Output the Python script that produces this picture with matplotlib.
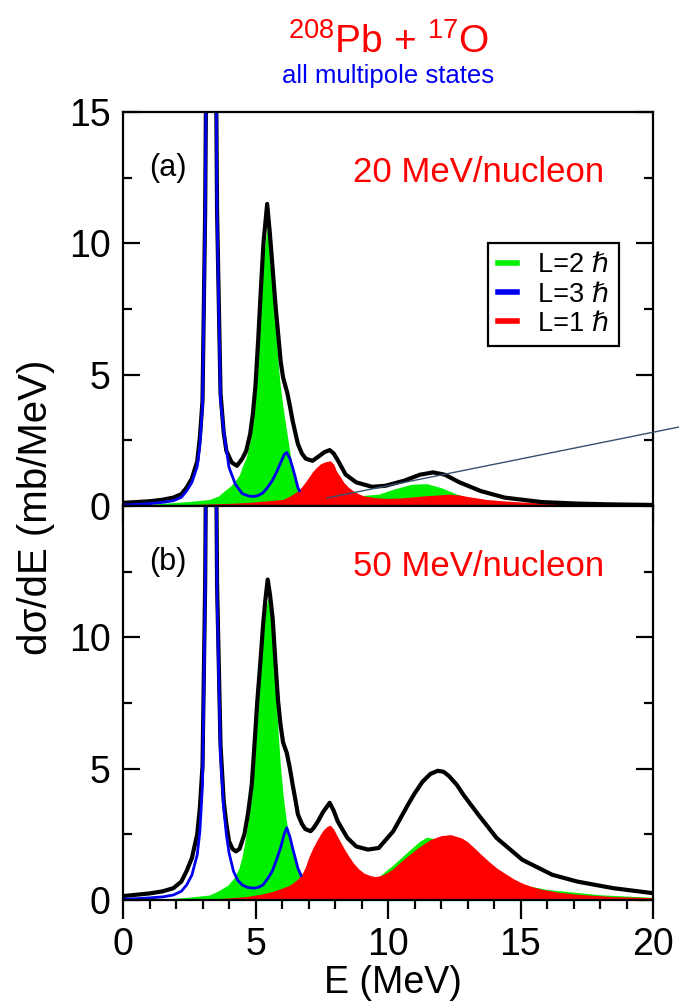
import matplotlib
matplotlib.use("Agg")
import matplotlib.pyplot as plt
from matplotlib.lines import Line2D
from matplotlib.ticker import MultipleLocator

plt.rcParams['font.family'] = ['Liberation Sans', 'DejaVu Sans']
plt.rcParams['mathtext.fontset'] = 'custom'
plt.rcParams['mathtext.rm'] = 'Liberation Sans'

# ---------------- data: panel (a) 20 MeV/nucleon ----------------
E_a_tot = [0, 0.5, 1.0, 1.5, 1.9, 2.2, 2.4, 2.6, 2.8, 2.9, 3.0, 3.1, 3.2, 3.32, 3.45,
           3.55, 3.68, 3.8, 3.9, 4.1, 4.3, 4.5, 4.65, 4.8, 4.9, 5.0, 5.1, 5.2, 5.3, 5.44,
           5.54, 5.65, 5.75, 5.85, 5.95, 6.04, 6.2, 6.3, 6.4, 6.5, 6.6, 6.75, 6.9, 7.15, 7.4,
           7.6, 7.8, 7.95, 8.1, 8.4, 8.8, 9.4, 9.9, 10.6, 11.2, 11.7, 12.15, 12.7, 13.5, 14.4,
           15.8, 17.2, 18.5, 20]
a_tot = [0.12, 0.15, 0.18, 0.24, 0.32, 0.45, 0.7, 1.05, 1.7, 2.6, 4.0, 11.2, 25, 40, 25,
         11.2, 4.3, 2.8, 2.1, 1.66, 1.53, 1.8, 2.1, 2.75, 3.5, 4.6, 6.3, 8.2, 10.0, 11.5,
         10.4, 9.0, 7.7, 6.6, 5.5, 4.9, 4.3, 3.8, 3.25, 2.8, 2.36, 2.0, 1.8, 1.72, 1.9,
         2.05, 2.13, 2.0, 1.75, 1.2, 0.9, 0.73, 0.77, 0.96, 1.19, 1.28, 1.19, 0.9, 0.57, 0.32,
         0.15, 0.09, 0.06, 0.04]

E_a_L3 = [0, 0.5, 1.0, 1.5, 1.9, 2.2, 2.4, 2.6, 2.8, 2.9, 3.0, 3.1, 3.2, 3.32, 3.45,
          3.55, 3.68, 3.82, 4.0, 4.24, 4.5, 4.75, 4.93, 5.1, 5.28, 5.45, 5.63, 5.8, 5.95, 6.08,
          6.18, 6.3, 6.4, 6.5, 6.6, 6.66]
a_L3 = [0.04, 0.06, 0.09, 0.14, 0.2, 0.33, 0.57, 0.9, 1.5, 2.3, 3.8, 11, 25, 40, 25,
        11, 4.0, 2.7, 1.47, 0.83, 0.47, 0.38, 0.36, 0.4, 0.5, 0.7, 0.96, 1.3, 1.65, 1.95,
        2.04, 1.8, 1.47, 1.1, 0.7, 0.58]

E_a_L2 = [0, 1.0, 1.9, 2.6, 3.26, 3.6, 3.82, 4.05, 4.24, 4.4, 4.5, 4.65, 4.8, 4.9, 5.0,
          5.1, 5.2, 5.3, 5.46, 5.55, 5.65, 5.75, 5.85, 5.93, 6.04, 6.15, 6.25, 6.35, 6.46, 6.57,
          6.67, 6.8, 7.0, 7.5, 8.0, 8.5, 9.0, 9.65, 10.2, 10.9, 11.46, 12.0, 12.6, 13.0, 13.5,
          14.0, 15, 16, 17, 18, 20]
a_L2 = [0.02, 0.07, 0.13, 0.18, 0.25, 0.38, 0.57, 0.75, 0.96, 1.2, 1.5, 1.85, 2.5, 3.2, 4.2,
        5.8, 7.8, 9.4, 10.8, 9.8, 8.35, 6.9, 5.5, 4.6, 3.76, 3.0, 2.36, 1.7, 1.2, 0.85,
        0.57, 0.45, 0.38, 0.33, 0.32, 0.35, 0.4, 0.45, 0.64, 0.83, 0.85, 0.7, 0.45, 0.32, 0.22,
        0.15, 0.09, 0.06, 0.04, 0.03, 0.02]

E_a_L1 = [0, 2, 4, 4.65, 5.5, 6.04, 6.3, 6.6, 6.8, 7.0, 7.15, 7.3, 7.45, 7.57, 7.7,
          7.82, 7.95, 8.05, 8.2, 8.33, 8.5, 8.7, 8.9, 9.1, 9.5, 9.93, 10.4, 10.9, 11.4, 11.9,
          12.3, 12.7, 13.0, 13.4, 13.7, 14.3, 15.07, 16, 17.2, 18.5, 20]
a_L1 = [0.01, 0.04, 0.1, 0.13, 0.2, 0.25, 0.38, 0.57, 0.8, 1.08, 1.3, 1.47, 1.6, 1.66, 1.7,
        1.72, 1.6, 1.34, 1.12, 0.9, 0.72, 0.57, 0.46, 0.38, 0.32, 0.29, 0.3, 0.34, 0.39, 0.42,
        0.45, 0.42, 0.36, 0.3, 0.25, 0.2, 0.15, 0.12, 0.09, 0.07, 0.06]

# ---------------- data: panel (b) 50 MeV/nucleon ----------------
E_b_tot = [0, 0.5, 1.0, 1.5, 1.9, 2.2, 2.4, 2.6, 2.8, 2.9, 3.0, 3.1, 3.2, 3.32, 3.45,
           3.55, 3.68, 3.8, 3.9, 4.0, 4.13, 4.26, 4.4, 4.58, 4.72, 4.86, 4.96, 5.07, 5.18, 5.28,
           5.37, 5.46, 5.55, 5.65, 5.75, 5.85, 5.94, 6.04, 6.18, 6.3, 6.4, 6.5, 6.6, 6.75, 6.88,
           7.08, 7.2, 7.36, 7.55, 7.8, 7.95, 8.1, 8.3, 8.47, 8.8, 9.24, 9.65, 10.2, 10.76, 11.0,
           11.3, 11.6, 11.88, 12.1, 12.3, 12.6, 12.85, 13.4, 14.1, 15.07, 16.2, 17.15, 18.5, 20]
b_tot = [0.15, 0.2, 0.25, 0.33, 0.45, 0.7, 1.1, 1.6, 2.5, 3.5, 5.1, 12, 26, 42, 26,
         12, 5.9, 3.77, 2.9, 2.24, 1.95, 1.85, 1.95, 2.5, 3.3, 4.4, 5.9, 7.6, 9.0, 10.4,
         11.4, 12.2, 11.6, 10.7, 9.1, 7.6, 6.7, 6.0, 5.6, 5.0, 4.4, 3.85, 3.26, 2.9, 2.7,
         2.62, 2.75, 3.0, 3.35, 3.7, 3.4, 3.0, 2.65, 2.36, 2.04, 1.92, 1.98, 2.62, 3.64, 4.05,
         4.5, 4.8, 4.92, 4.88, 4.72, 4.38, 4.0, 3.26, 2.36, 1.53, 0.96, 0.7, 0.45, 0.26]

E_b_L3 = [0, 0.5, 1.0, 1.5, 1.9, 2.2, 2.4, 2.6, 2.8, 2.9, 3.0, 3.1, 3.2, 3.32, 3.45,
          3.55, 3.68, 3.8, 3.9, 4.0, 4.17, 4.33, 4.5, 4.7, 4.93, 5.1, 5.28, 5.45, 5.63, 5.8,
          5.95, 6.08, 6.18, 6.3, 6.4, 6.5, 6.6, 6.72]
b_L3 = [0.03, 0.05, 0.08, 0.12, 0.19, 0.33, 0.57, 0.95, 1.72, 2.6, 4.4, 11.5, 26, 42, 26,
        11.5, 5.5, 3.5, 2.5, 1.8, 1.09, 0.75, 0.57, 0.48, 0.45, 0.48, 0.57, 0.8, 1.09, 1.55,
        2.0, 2.5, 2.75, 2.4, 1.98, 1.6, 1.21, 0.93]

E_b_L2 = [0, 1.0, 1.9, 2.6, 3.26, 3.6, 3.96, 4.2, 4.37, 4.48, 4.58, 4.72, 4.86, 4.96, 5.07,
          5.18, 5.28, 5.38, 5.48, 5.57, 5.65, 5.75, 5.85, 5.94, 6.04, 6.15, 6.25, 6.35, 6.46, 6.57,
          6.67, 6.8, 7.0, 7.5, 8.0, 8.5, 9.0, 9.65, 10.2, 10.76, 11.2, 11.46, 11.74, 12.0, 12.4,
          13.0, 14.0, 15.0, 16.0, 18.0, 20.0]
b_L2 = [0.01, 0.03, 0.06, 0.12, 0.19, 0.35, 0.57, 0.85, 1.2, 1.6, 2.1, 3.0, 4.0, 5.4, 7.34,
        8.8, 10.15, 11.0, 11.56, 10.8, 9.64, 8.0, 6.45, 5.1, 4.0, 3.1, 2.5, 2.0, 1.6, 1.3,
        1.09, 0.95, 0.83, 0.75, 0.72, 0.73, 0.78, 0.89, 1.34, 1.85, 2.24, 2.39, 2.34, 2.2, 1.95,
        1.5, 0.95, 0.6, 0.4, 0.2, 0.1]

E_b_L1 = [0, 2, 3.26, 4.0, 4.65, 5.2, 5.63, 6.0, 6.3, 6.55, 6.74, 6.88, 7.0, 7.15, 7.3,
          7.45, 7.57, 7.7, 7.82, 7.95, 8.05, 8.2, 8.33, 8.5, 8.7, 8.9, 9.1, 9.3, 9.5, 9.7,
          9.93, 10.2, 10.5, 10.8, 11.04, 11.3, 11.6, 12.0, 12.36, 12.78, 13.0, 13.26, 13.5, 13.8, 14.1,
          14.4, 14.75, 15.07, 15.4, 15.76, 16.4, 17.15, 18.5, 20]
b_L1 = [0.0, 0.02, 0.04, 0.08, 0.13, 0.22, 0.32, 0.45, 0.57, 0.76, 0.96, 1.25, 1.6, 1.95, 2.24,
        2.5, 2.68, 2.8, 2.85, 2.7, 2.5, 2.22, 1.98, 1.7, 1.4, 1.18, 1.02, 0.94, 0.89, 0.92,
        1.02, 1.2, 1.47, 1.72, 1.92, 2.1, 2.3, 2.45, 2.49, 2.36, 2.22, 1.98, 1.75, 1.47, 1.22,
        1.02, 0.8, 0.64, 0.52, 0.42, 0.3, 0.22, 0.13, 0.09]

legend_labels = ["L=2 \u210f", "L=3 \u210f", "L=1 \u210f"]
energy_labels = ["20 MeV/nucleon", "50 MeV/nucleon"]
panel_labels = ["(a)", "(b)"]

GREEN = '#00f000'
RED = '#ff0000'
BLUE = '#0000f0'
FONT = ['Liberation Sans', 'DejaVu Sans']

fig = plt.figure(figsize=(6.79, 10.05), dpi=100)
W, H = 679.0, 1005.0
left, right = 123 / W, 653 / W
ax_a = fig.add_axes([left, (H - 506) / H, right - left, 394 / H])
ax_b = fig.add_axes([left, (H - 900) / H, right - left, 394 / H])

panels = [
    (ax_a, E_a_tot, a_tot, E_a_L3, a_L3, E_a_L2, a_L2, E_a_L1, a_L1),
    (ax_b, E_b_tot, b_tot, E_b_L3, b_L3, E_b_L2, b_L2, E_b_L1, b_L1),
]

for i, (ax, Et, yt, E3, y3, E2, y2, E1, y1) in enumerate(panels):
    ax.fill_between(E2, 0, y2, color=GREEN, lw=0, zorder=1)
    ax.fill_between(E1, 0, y1, color=RED, lw=0, zorder=2)
    ax.plot(Et, yt, color='black', lw=3.0, zorder=3, solid_joinstyle='round')
    ax.plot(E3, y3, color=BLUE, lw=2.0, zorder=4, solid_joinstyle='round')
    ax.set_xlim(0, 20)
    ax.set_ylim(0, 15)
    for s in ax.spines.values():
        s.set_linewidth(1.6)
        s.set_zorder(6)
    ax.xaxis.set_major_locator(MultipleLocator(5))
    ax.xaxis.set_minor_locator(MultipleLocator(1))
    ax.yaxis.set_major_locator(MultipleLocator(5))
    ax.yaxis.set_minor_locator(MultipleLocator(2.5))
    ax.tick_params(axis='x', which='both', direction='out', bottom=True, top=False, width=1.6)
    ax.tick_params(axis='x', which='major', length=13.5, pad=6, labelsize=27)
    ax.tick_params(axis='x', which='minor', length=6.5)
    ax.tick_params(axis='y', which='both', direction='in', left=True, right=True, width=1.6)
    ax.tick_params(axis='y', which='major', length=12, pad=9, labelsize=27)
    ax.tick_params(axis='y', which='minor', length=6.5)
    ax.text(1.0, 12.85, panel_labels[i], fontsize=22, color='black', ha='left', va='center')
    ax.text(8.68, 12.7, energy_labels[i], fontsize=25, color=RED, ha='left', va='center')

ax_a.tick_params(axis='x', labelbottom=False)
ax_b.set_yticks([0, 5, 10])
ax_b.yaxis.set_minor_locator(MultipleLocator(2.5))

handles = [Line2D([], [], color=GREEN, lw=4),
           Line2D([], [], color=BLUE, lw=4),
           Line2D([], [], color=RED, lw=4)]
leg = ax_a.legend(handles, legend_labels, loc='upper left',
                  bbox_to_anchor=(0.689, 0.668), borderaxespad=0.0,
                  prop={'family': FONT, 'size': 19.5},
                  handlelength=0.7, handletextpad=0.8, labelspacing=0.12,
                  borderpad=0.35, fancybox=False, framealpha=1, edgecolor='black')
leg.get_frame().set_linewidth(1.6)
leg.set_zorder(7)

# titles and axis labels
fig.text(388 / W, 1 - 53 / H, r"$^{\mathrm{208}}$Pb + $^{\mathrm{17}}$O", color=RED,
         fontsize=28, ha='center', va='baseline')
fig.text(388 / W, 1 - 83 / H, "all multipole states", color=BLUE,
         fontsize=18.5, ha='center', va='baseline')
fig.text(36 / W, 1 - 507 / H, "d\u03c3/dE (mb/MeV)", rotation=90, fontsize=29,
         ha='center', va='center')
fig.text(393 / W, 1 - 983 / H, "E (MeV)", fontsize=27, ha='center', va='center')

# thin annotation line crossing panel (a)
fig.add_artist(Line2D([327 / W, 1.0], [1 - 498 / H, 1 - 427 / H],
                      transform=fig.transFigure, color='#34506e', lw=1.0, zorder=10))

fig.savefig("out.png", dpi=100)
